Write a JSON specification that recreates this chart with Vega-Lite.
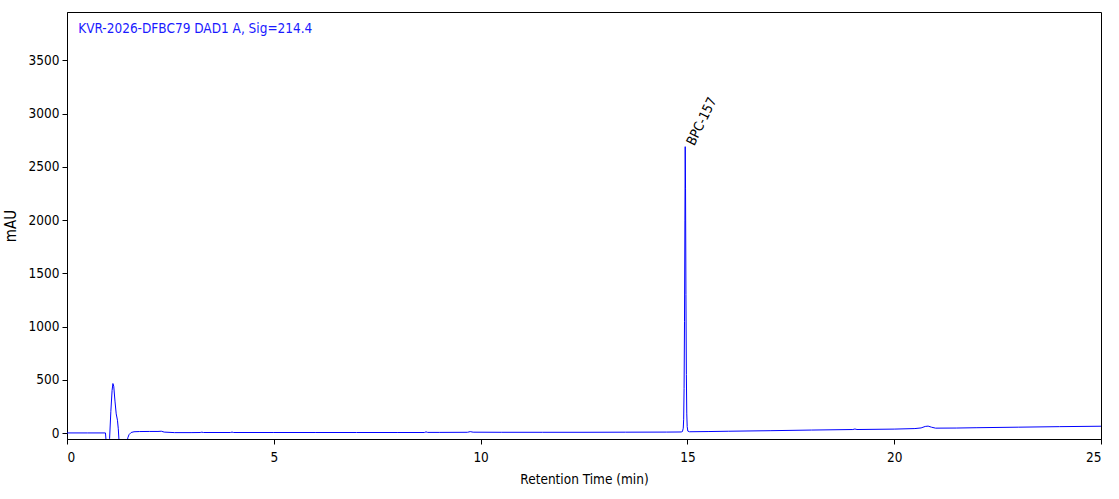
{
  "$schema": "https://vega.github.io/schema/vega-lite/v6.json",
  "width": 1034,
  "height": 427,
  "autosize": "none",
  "padding": {"left": 67, "top": 12, "right": 18, "bottom": 60},
  "background": "white",
  "datasets": {
    "trace": [
      {"t": 0.0, "mAU": 1},
      {"t": 0.5, "mAU": 1},
      {"t": 0.93, "mAU": 1},
      {"t": 0.96, "mAU": -150},
      {"t": 1.0, "mAU": -200},
      {"t": 1.03, "mAU": -50},
      {"t": 1.06, "mAU": 200},
      {"t": 1.09, "mAU": 400},
      {"t": 1.11, "mAU": 465},
      {"t": 1.13, "mAU": 440},
      {"t": 1.16, "mAU": 300},
      {"t": 1.19, "mAU": 180},
      {"t": 1.22, "mAU": 120},
      {"t": 1.24, "mAU": 40},
      {"t": 1.27, "mAU": -150},
      {"t": 1.35, "mAU": -300},
      {"t": 1.44, "mAU": -150},
      {"t": 1.47, "mAU": -45},
      {"t": 1.5, "mAU": -15},
      {"t": 1.55, "mAU": 5},
      {"t": 1.62, "mAU": 12},
      {"t": 1.75, "mAU": 14},
      {"t": 2.0, "mAU": 15},
      {"t": 2.2, "mAU": 15},
      {"t": 2.28, "mAU": 17},
      {"t": 2.35, "mAU": 9},
      {"t": 2.6, "mAU": 4},
      {"t": 3.0, "mAU": 4},
      {"t": 3.22, "mAU": 5},
      {"t": 3.26, "mAU": 8},
      {"t": 3.3, "mAU": 5},
      {"t": 3.95, "mAU": 5},
      {"t": 3.99, "mAU": 9},
      {"t": 4.03, "mAU": 5},
      {"t": 5.0, "mAU": 5},
      {"t": 6.0, "mAU": 5},
      {"t": 7.0, "mAU": 5},
      {"t": 8.0, "mAU": 5},
      {"t": 8.64, "mAU": 5},
      {"t": 8.68, "mAU": 11},
      {"t": 8.72, "mAU": 6},
      {"t": 9.0, "mAU": 6},
      {"t": 9.68, "mAU": 7},
      {"t": 9.75, "mAU": 13},
      {"t": 9.82, "mAU": 8},
      {"t": 10.5, "mAU": 7},
      {"t": 11.5, "mAU": 7},
      {"t": 12.5, "mAU": 7},
      {"t": 13.5, "mAU": 8},
      {"t": 14.5, "mAU": 9},
      {"t": 14.85, "mAU": 10},
      {"t": 14.88, "mAU": 14},
      {"t": 14.9, "mAU": 45},
      {"t": 14.91, "mAU": 130},
      {"t": 14.92, "mAU": 420},
      {"t": 14.93, "mAU": 1050},
      {"t": 14.94, "mAU": 2000},
      {"t": 14.947, "mAU": 2690},
      {"t": 14.955, "mAU": 2300},
      {"t": 14.965, "mAU": 1300},
      {"t": 14.975, "mAU": 550},
      {"t": 14.985, "mAU": 180},
      {"t": 14.995, "mAU": 60},
      {"t": 15.01, "mAU": 18},
      {"t": 15.05, "mAU": 12},
      {"t": 15.5, "mAU": 14},
      {"t": 16.0, "mAU": 17},
      {"t": 17.0, "mAU": 22},
      {"t": 18.0, "mAU": 28},
      {"t": 19.0, "mAU": 33},
      {"t": 19.05, "mAU": 38},
      {"t": 19.1, "mAU": 33},
      {"t": 20.0, "mAU": 37},
      {"t": 20.5, "mAU": 42},
      {"t": 20.65, "mAU": 48},
      {"t": 20.75, "mAU": 62},
      {"t": 20.82, "mAU": 65},
      {"t": 20.9, "mAU": 55},
      {"t": 21.0, "mAU": 46},
      {"t": 21.5, "mAU": 47},
      {"t": 22.0, "mAU": 50},
      {"t": 23.0, "mAU": 55},
      {"t": 24.0, "mAU": 60},
      {"t": 25.0, "mAU": 64}
    ],
    "peaks": [
      {"t": 14.947, "mAU": 2690, "name": "BPC-157"}
    ],
    "info": [
      {"t": 0.27, "mAU": 3800, "label": "KVR-2026-DFBC79 DAD1 A, Sig=214.4"}
    ]
  },
  "layer": [
    {
      "data": {"name": "trace"},
      "mark": {"type": "line", "color": "#0000ff", "strokeWidth": 1, "clip": true, "interpolate": "linear"},
      "encoding": {
        "x": {
          "field": "t",
          "type": "quantitative",
          "title": "Retention Time (min)",
          "scale": {"domain": [0, 25], "nice": false, "zero": false},
          "axis": {"values": [0, 5, 10, 15, 20, 25], "format": "d", "labelPadding": 6, "titlePadding": 9}
        },
        "y": {
          "field": "mAU",
          "type": "quantitative",
          "title": "mAU",
          "scale": {"domain": [-56, 3955], "nice": false, "zero": false},
          "axis": {"values": [0, 500, 1000, 1500, 2000, 2500, 3000, 3500], "format": "d", "titlePadding": 10, "titleFontSize": 15}
        }
      }
    },
    {
      "data": {"name": "peaks"},
      "mark": {"type": "text", "angle": -64, "align": "left", "baseline": "alphabetic", "dx": 4, "dy": 8, "fontSize": 13.5, "font": "DejaVu Sans Condensed", "color": "black"},
      "encoding": {
        "x": {"field": "t", "type": "quantitative"},
        "y": {"field": "mAU", "type": "quantitative"},
        "text": {"field": "name"}
      }
    },
    {
      "data": {"name": "info"},
      "mark": {"type": "text", "align": "left", "baseline": "middle", "fontSize": 13.5, "font": "DejaVu Sans Condensed", "color": "#1a1aff"},
      "encoding": {
        "x": {"field": "t", "type": "quantitative"},
        "y": {"field": "mAU", "type": "quantitative"},
        "text": {"field": "label"}
      }
    }
  ],
  "config": {
    "view": {"stroke": "black", "strokeWidth": 1},
    "font": "DejaVu Sans Condensed",
    "axis": {
      "grid": false,
      "domainColor": "black",
      "tickColor": "black",
      "tickSize": 5,
      "labelColor": "black",
      "labelFontSize": 13.5,
      "labelFont": "DejaVu Sans Condensed",
      "titleFont": "DejaVu Sans Condensed",
      "titleFontSize": 13.5,
      "titleFontWeight": "normal",
      "titleColor": "black",
      "labelPadding": 3
    }
  }
}
